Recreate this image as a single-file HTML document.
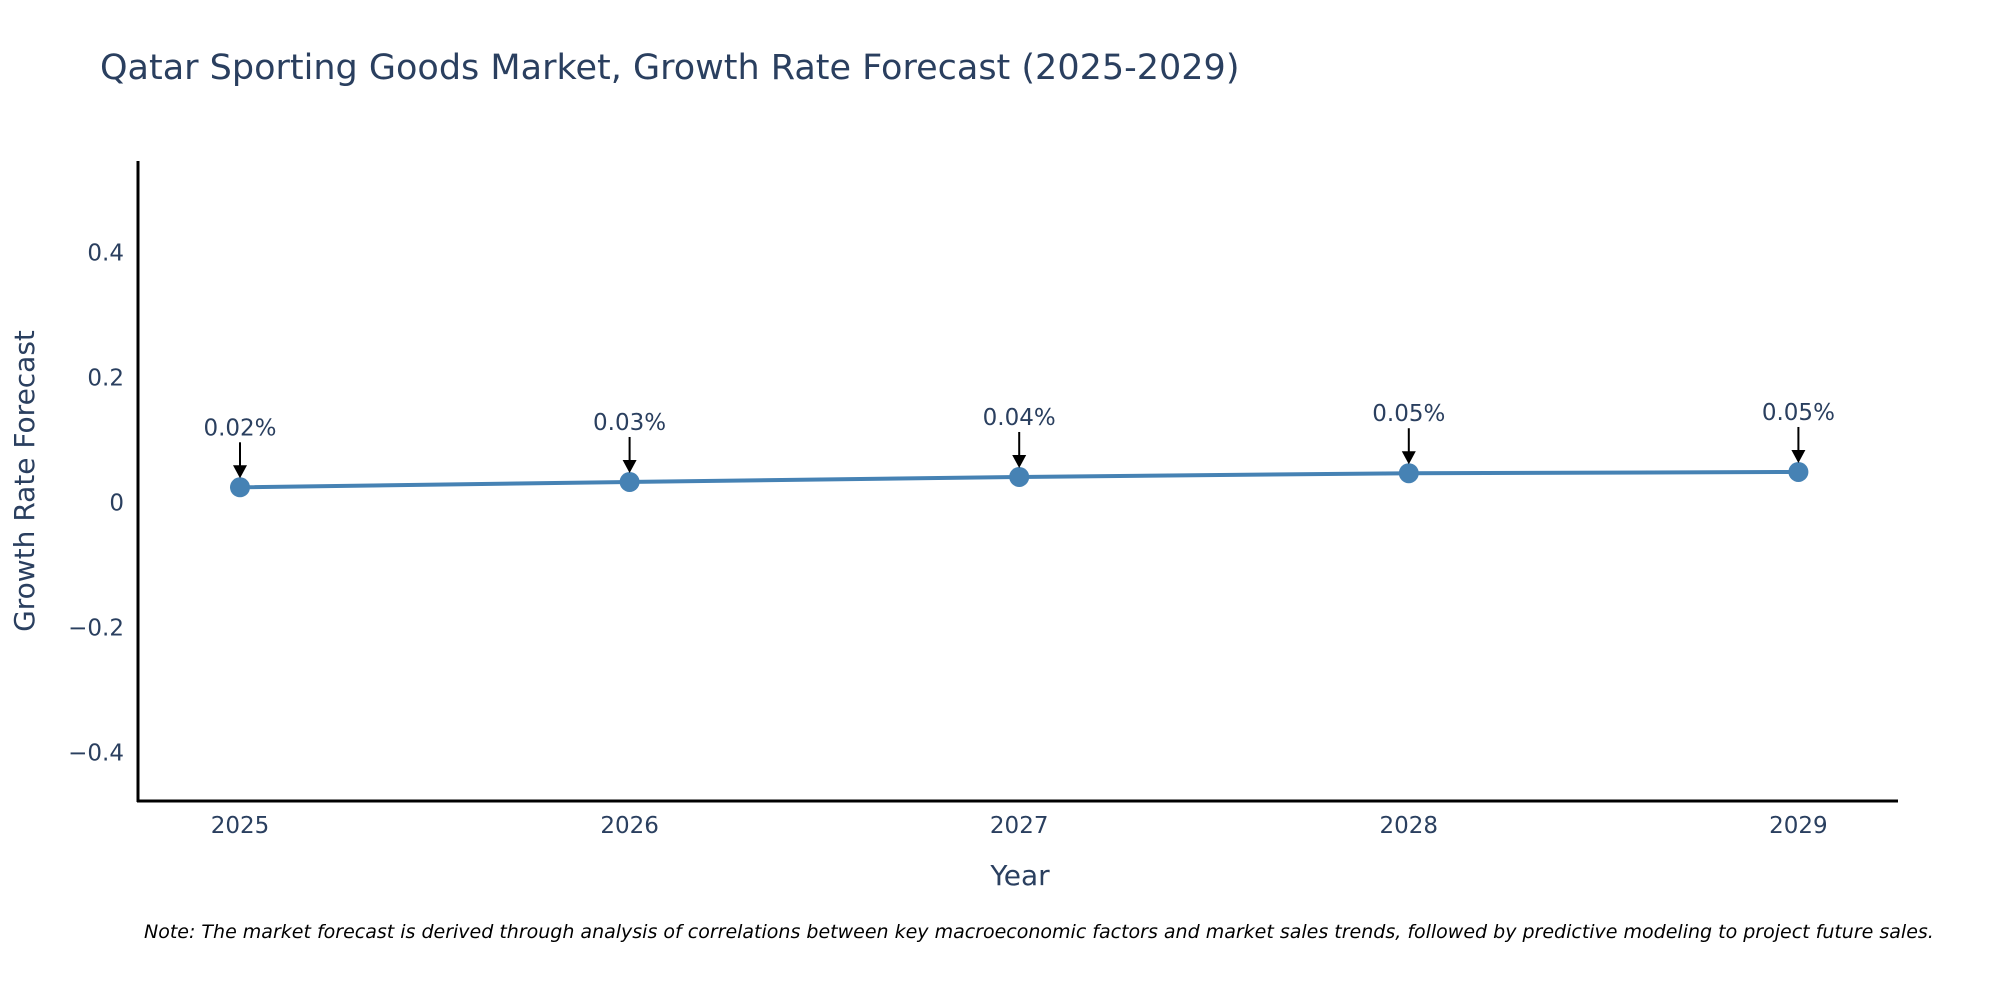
<!DOCTYPE html>
<html><head><meta charset="utf-8"><style>
body{margin:0;background:#fff;overflow:hidden;}
svg text{font-family:"DejaVu Sans","Liberation Sans",sans-serif;}
</style></head><body>
<svg id="chart" width="2000" height="1000" viewBox="0 0 2000 1000" xmlns="http://www.w3.org/2000/svg">
<rect width="2000" height="1000" fill="#fff"/>
<text x="100" y="79" font-size="35" fill="#2a3f5f">Qatar Sporting Goods Market, Growth Rate Forecast (2025-2029)</text>
<g id="yticks"></g><g id="xticks"></g>
<line x1="138" y1="161" x2="138" y2="802" stroke="#000" stroke-width="3"/>
<line x1="137" y1="801" x2="1898" y2="801" stroke="#000" stroke-width="3"/>
<g id="series"></g>
<text x="1020" y="885" font-size="28" fill="#2a3f5f" text-anchor="middle">Year</text>
<text transform="translate(34,481) rotate(-90)" font-size="28" fill="#2a3f5f" text-anchor="middle">Growth Rate Forecast</text>
<text x="144" y="938" font-size="19" font-style="italic" fill="#000">Note: The market forecast is derived through analysis of correlations between key macroeconomic factors and market sales trends, followed by predictive modeling to project future sales.</text>
</svg>
<script>
const years=[2025,2026,2027,2028,2029];
const values=[0.0245,0.033,0.041,0.047,0.049];
const labels=["0.02%","0.03%","0.04%","0.05%","0.05%"];
const yTicks=[0.4,0.2,0,-0.2,-0.4];
const yTickLabels=["0.4","0.2","0","\u22120.2","\u22120.4"];
const NS="http://www.w3.org/2000/svg";
const xs=y=>240+(y-2025)*389.6;
const ys=v=>502.6-v*625;
function mk(t,a,p){const e=document.createElementNS(NS,t);for(const k in a)e.setAttribute(k,a[k]);p.appendChild(e);return e;}
const yt=document.getElementById('yticks');
yTicks.forEach((v,i)=>{const t=mk('text',{x:124,y:ys(v)+8,'font-size':23,fill:'#2a3f5f','text-anchor':'end'},yt);t.textContent=yTickLabels[i];

});
const xt=document.getElementById('xticks');
years.forEach(y=>{const t=mk('text',{x:xs(y),y:833,'font-size':23,fill:'#2a3f5f','text-anchor':'middle'},xt);t.textContent=y;

});
const s=document.getElementById('series');
const line=mk('polyline',{points:years.map((y,i)=>xs(y)+','+ys(values[i])).join(' '),fill:'none',stroke:'#4682b4','stroke-width':4},s);


years.forEach((y,i)=>{const cx=xs(y),cy=ys(values[i]);
const c=mk('circle',{cx:cx,cy:cy,r:10,fill:'#4682b4'},s);


const top=cy-45;
const a=mk('line',{x1:cx,y1:top,x2:cx,y2:cy-20,stroke:'#000','stroke-width':2},s);


const h=mk('polygon',{points:`${cx-7},${cy-22} ${cx+7},${cy-22} ${cx},${cy-9}`,fill:'#000'},s);


const t=mk('text',{x:cx,y:top-7,'font-size':23,fill:'#2a3f5f','text-anchor':'middle'},s);t.textContent=labels[i];

});
</script>
</body></html>
